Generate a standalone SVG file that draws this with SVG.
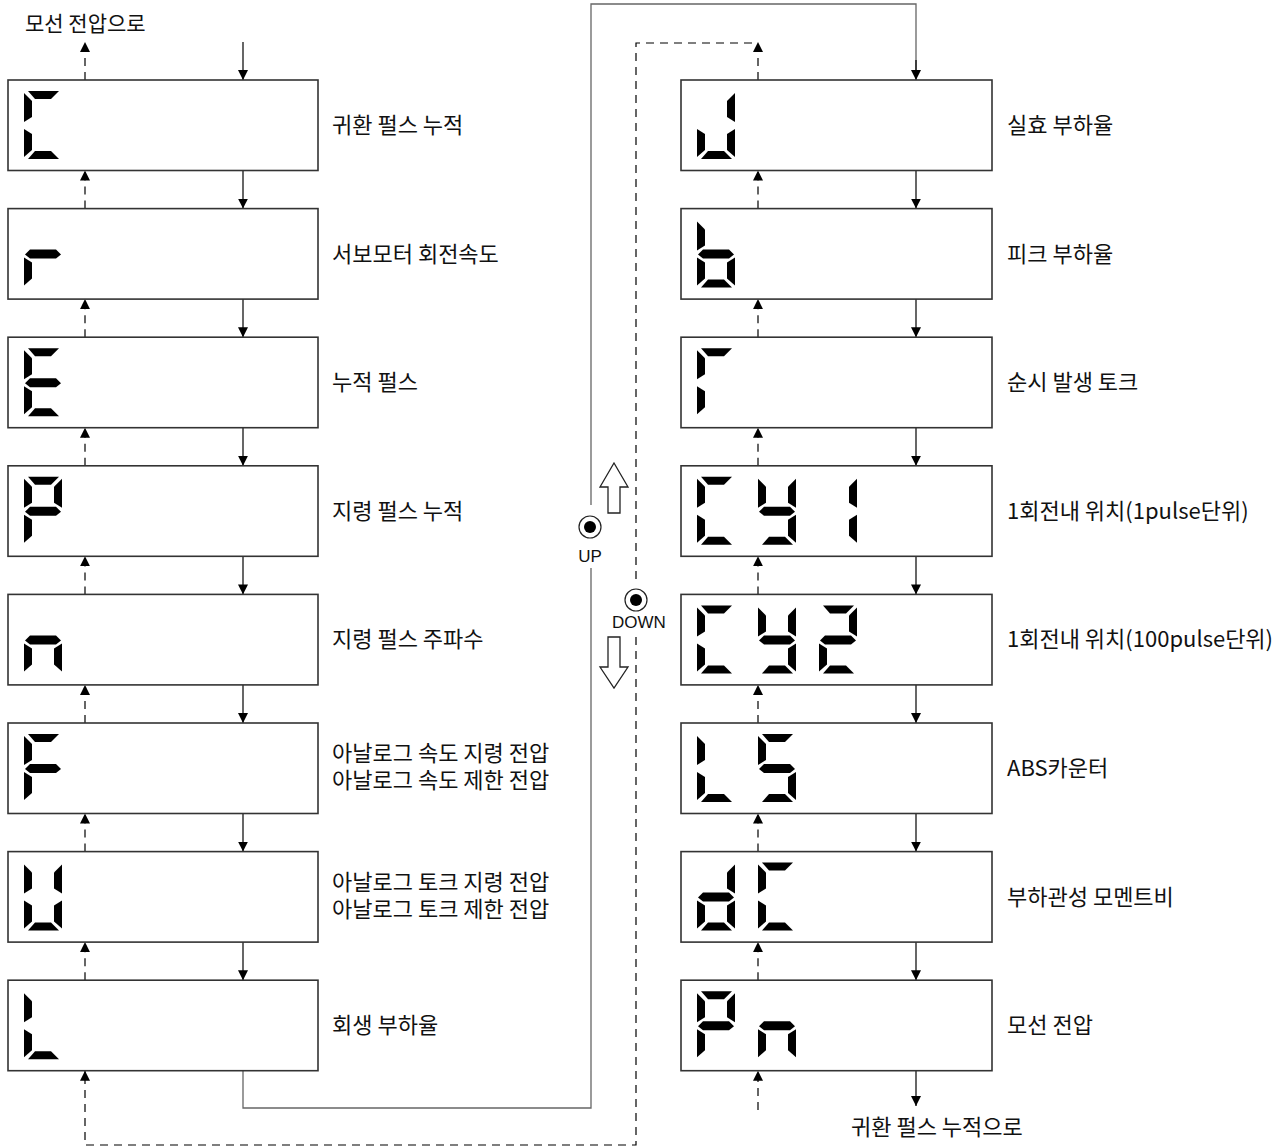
<svg xmlns="http://www.w3.org/2000/svg" xmlns:xlink="http://www.w3.org/1999/xlink" width="1282" height="1147" viewBox="0 0 1282 1147">
<style>
.box{fill:#fff;stroke:#333;stroke-width:1.6}
.seg{fill:#000}
.lbl{font-family:"Noto Sans CJK KR","Noto Sans",sans-serif;font-size:22px;fill:#111}
.btn{font-family:"Liberation Sans",Arial,sans-serif;font-size:17px;fill:#111}
.sol{fill:none;stroke:#000;stroke-width:1.2}
.route{fill:none;stroke:#666;stroke-width:1.3}
.dash{fill:none;stroke:#000;stroke-width:1.2;stroke-dasharray:8,6}
.hollow{fill:#fff;stroke:#222;stroke-width:1.3}
</style>
<defs>
<marker id="ah" viewBox="0 0 10 10" refX="10" refY="5" markerWidth="10" markerHeight="10" markerUnits="userSpaceOnUse" orient="auto"><path d="M0,0 L10,5 L0,10 z" fill="#000"/></marker>
<polygon id="sa" class="seg" points="4,0 35,0 27,8 11,8"/>
<polygon id="sb" class="seg" points="38,2 38,31 30,26 30,10"/>
<polygon id="sc" class="seg" points="38,38 38,66 30,59 30,43"/>
<polygon id="sd" class="seg" points="4,68 35,68 27,60 11,60"/>
<polygon id="se" class="seg" points="0,38 8,43 8,59 0,66"/>
<polygon id="sf" class="seg" points="0,2 8,10 8,26 0,31"/>
<polygon id="sg" class="seg" points="1,35 6,30 32,30 37,35 32,39 6,39"/>
<g id="dC"><use href="#sa"/><use href="#sf"/><use href="#se"/><use href="#sd"/></g>
<g id="dr"><use href="#se"/><use href="#sg"/></g>
<g id="dE"><use href="#sa"/><use href="#sf"/><use href="#sg"/><use href="#se"/><use href="#sd"/></g>
<g id="dP"><use href="#sa"/><use href="#sb"/><use href="#sf"/><use href="#sg"/><use href="#se"/></g>
<g id="dn"><use href="#sg"/><use href="#se"/><use href="#sc"/></g>
<g id="dF"><use href="#sa"/><use href="#sf"/><use href="#sg"/><use href="#se"/></g>
<g id="dU"><use href="#sf"/><use href="#sb"/><use href="#se"/><use href="#sc"/><use href="#sd"/></g>
<g id="dL"><use href="#sf"/><use href="#se"/><use href="#sd"/></g>
<g id="dJ"><use href="#sb"/><use href="#sc"/><use href="#sd"/><use href="#se"/></g>
<g id="db"><use href="#sf"/><use href="#se"/><use href="#sg"/><use href="#sc"/><use href="#sd"/></g>
<g id="dG"><use href="#sa"/><use href="#sf"/><use href="#se"/></g>
<g id="dy"><use href="#sf"/><use href="#sb"/><use href="#sg"/><use href="#sc"/><use href="#sd"/></g>
<g id="d1"><use href="#sb"/><use href="#sc"/></g>
<g id="d2"><use href="#sa"/><use href="#sb"/><use href="#sg"/><use href="#se"/><use href="#sd"/></g>
<g id="dS"><use href="#sa"/><use href="#sf"/><use href="#sg"/><use href="#sc"/><use href="#sd"/></g>
<g id="dd"><use href="#sb"/><use href="#sg"/><use href="#se"/><use href="#sc"/><use href="#sd"/></g>
</defs>

<g id="connectors">
<path class="sol" marker-end="url(#ah)" d="M243,42 V80"/>
<path class="sol" marker-end="url(#ah)" d="M243,170.5 V208.6"/>
<path class="sol" marker-end="url(#ah)" d="M243,299.1 V337.2"/>
<path class="sol" marker-end="url(#ah)" d="M243,427.7 V465.8"/>
<path class="sol" marker-end="url(#ah)" d="M243,556.3 V594.4"/>
<path class="sol" marker-end="url(#ah)" d="M243,684.9 V723"/>
<path class="sol" marker-end="url(#ah)" d="M243,813.5 V851.6"/>
<path class="sol" marker-end="url(#ah)" d="M243,942.1 V980.2"/>
<path class="dash" marker-end="url(#ah)" d="M85,80 V42"/>
<path class="dash" marker-end="url(#ah)" d="M85,208.6 V170.5"/>
<path class="dash" marker-end="url(#ah)" d="M85,337.2 V299.1"/>
<path class="dash" marker-end="url(#ah)" d="M85,465.8 V427.7"/>
<path class="dash" marker-end="url(#ah)" d="M85,594.4 V556.3"/>
<path class="dash" marker-end="url(#ah)" d="M85,723 V684.9"/>
<path class="dash" marker-end="url(#ah)" d="M85,851.6 V813.5"/>
<path class="dash" marker-end="url(#ah)" d="M85,980.2 V942.1"/>
<path class="sol" marker-end="url(#ah)" d="M916,170.5 V208.6"/>
<path class="sol" marker-end="url(#ah)" d="M916,299.1 V337.2"/>
<path class="sol" marker-end="url(#ah)" d="M916,427.7 V465.8"/>
<path class="sol" marker-end="url(#ah)" d="M916,556.3 V594.4"/>
<path class="sol" marker-end="url(#ah)" d="M916,684.9 V723"/>
<path class="sol" marker-end="url(#ah)" d="M916,813.5 V851.6"/>
<path class="sol" marker-end="url(#ah)" d="M916,942.1 V980.2"/>
<path class="sol" marker-end="url(#ah)" d="M916,1070.7 V1106"/>
<path class="dash" marker-end="url(#ah)" d="M758,80 V42"/>
<path class="dash" marker-end="url(#ah)" d="M758,208.6 V170.5"/>
<path class="dash" marker-end="url(#ah)" d="M758,337.2 V299.1"/>
<path class="dash" marker-end="url(#ah)" d="M758,465.8 V427.7"/>
<path class="dash" marker-end="url(#ah)" d="M758,594.4 V556.3"/>
<path class="dash" marker-end="url(#ah)" d="M758,723 V684.9"/>
<path class="dash" marker-end="url(#ah)" d="M758,851.6 V813.5"/>
<path class="dash" marker-end="url(#ah)" d="M758,980.2 V942.1"/>
<path class="dash" marker-end="url(#ah)" d="M758,1110 V1070.7"/>
<path class="route" d="M243,1070.7 V1108 H591 V568 M591,505 V4 H916 V70"/>
<path class="sol" marker-end="url(#ah)" d="M916,60 V80"/>
<path class="dash" d="M752,43 H636 V583 M636,637 V1145 H85 V1082"/>
<path class="sol" marker-end="url(#ah)" d="M85,1082 V1070.7"/>
</g>

<g id="up-button">
<circle cx="590" cy="527" r="11" fill="#fff" stroke="#222" stroke-width="1.2"/>
<circle cx="590" cy="527" r="6" fill="#000"/>
<text class="btn" x="590" y="562" text-anchor="middle">UP</text>
<polygon class="hollow" points="614,463 628,487 620,487 620,513 608,513 608,487 600,487"/>
</g>
<g id="down-button">
<circle cx="636" cy="600" r="11" fill="#fff" stroke="#222" stroke-width="1.2"/>
<circle cx="636" cy="600" r="6" fill="#000"/>
<text class="btn" x="639" y="628" text-anchor="middle">DOWN</text>
<polygon class="hollow" points="608,637 620,637 620,667 628,667 614,688 600,667 608,667"/>
</g>

<text class="lbl" x="25" y="31" style="font-size:21px">모선 전압으로</text>
<text class="lbl" x="851" y="1135">귀환 펄스 누적으로</text>

<g id="n-L1"><rect class="box" x="8" y="80" width="310" height="90.5"/><use href="#dC" x="24" y="91"/><text class="lbl" x="332" y="133">귀환 펄스 누적</text></g>
<g id="n-L2"><rect class="box" x="8" y="208.6" width="310" height="90.5"/><use href="#dr" x="24" y="219.6"/><text class="lbl" x="332" y="261.6">서보모터 회전속도</text></g>
<g id="n-L3"><rect class="box" x="8" y="337.2" width="310" height="90.5"/><use href="#dE" x="24" y="348.2"/><text class="lbl" x="332" y="390.2">누적 펄스</text></g>
<g id="n-L4"><rect class="box" x="8" y="465.8" width="310" height="90.5"/><use href="#dP" x="24" y="476.8"/><text class="lbl" x="332" y="518.8">지령 펄스 누적</text></g>
<g id="n-L5"><rect class="box" x="8" y="594.4" width="310" height="90.5"/><use href="#dn" x="24" y="605.4"/><text class="lbl" x="332" y="647.4">지령 펄스 주파수</text></g>
<g id="n-L6"><rect class="box" x="8" y="723" width="310" height="90.5"/><use href="#dF" x="24" y="734"/><text class="lbl" x="332" y="761">아날로그 속도 지령 전압</text><text class="lbl" x="332" y="788">아날로그 속도 제한 전압</text></g>
<g id="n-L7"><rect class="box" x="8" y="851.6" width="310" height="90.5"/><use href="#dU" x="24" y="862.6"/><text class="lbl" x="332" y="889.6">아날로그 토크 지령 전압</text><text class="lbl" x="332" y="916.6">아날로그 토크 제한 전압</text></g>
<g id="n-L8"><rect class="box" x="8" y="980.2" width="310" height="90.5"/><use href="#dL" x="24" y="991.2"/><text class="lbl" x="332" y="1033.2">회생 부하율</text></g>

<g id="n-R1"><rect class="box" x="681" y="80" width="311" height="90.5"/><use href="#dJ" x="697" y="91"/><text class="lbl" x="1007" y="133">실효 부하율</text></g>
<g id="n-R2"><rect class="box" x="681" y="208.6" width="311" height="90.5"/><use href="#db" x="697" y="219.6"/><text class="lbl" x="1007" y="261.6">피크 부하율</text></g>
<g id="n-R3"><rect class="box" x="681" y="337.2" width="311" height="90.5"/><use href="#dG" x="697" y="348.2"/><text class="lbl" x="1007" y="390.2">순시 발생 토크</text></g>
<g id="n-R4"><rect class="box" x="681" y="465.8" width="311" height="90.5"/><use href="#dC" x="697" y="476.8"/><use href="#dy" x="758" y="476.8"/><use href="#d1" x="819" y="476.8"/><text class="lbl" x="1007" y="518.8">1회전내 위치(1pulse단위)</text></g>
<g id="n-R5"><rect class="box" x="681" y="594.4" width="311" height="90.5"/><use href="#dC" x="697" y="605.4"/><use href="#dy" x="758" y="605.4"/><use href="#d2" x="819" y="605.4"/><text class="lbl" x="1007" y="647.4">1회전내 위치(100pulse단위)</text></g>
<g id="n-R6"><rect class="box" x="681" y="723" width="311" height="90.5"/><use href="#dL" x="697" y="734"/><use href="#dS" x="758" y="734"/><text class="lbl" x="1007" y="776">ABS카운터</text></g>
<g id="n-R7"><rect class="box" x="681" y="851.6" width="311" height="90.5"/><use href="#dd" x="697" y="862.6"/><use href="#dC" x="758" y="862.6"/><text class="lbl" x="1007" y="904.6">부하관성 모멘트비</text></g>
<g id="n-R8"><rect class="box" x="681" y="980.2" width="311" height="90.5"/><use href="#dP" x="697" y="991.2"/><use href="#dn" x="758" y="991.2"/><text class="lbl" x="1007" y="1033.2">모선 전압</text></g>
</svg>
